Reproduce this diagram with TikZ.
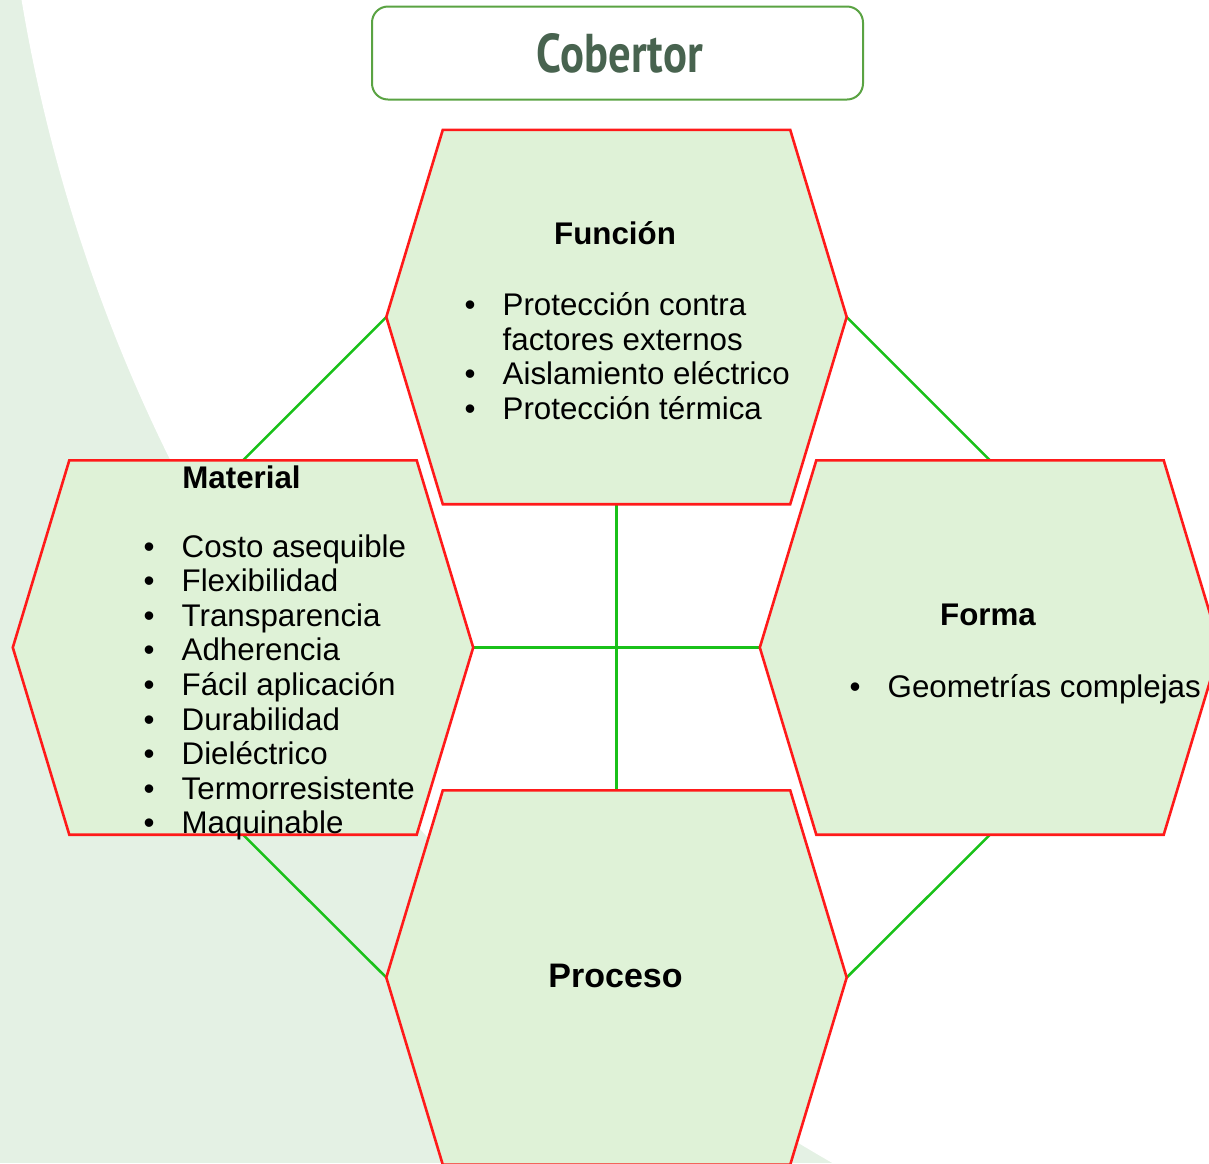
\documentclass[tikz,border=0pt]{standalone}
\usepackage{fontspec}
\setmainfont{Liberation Sans}
\newfontfamily\titlefont{PT Sans}
\usetikzlibrary{calc}
\definecolor{bgarc}{HTML}{E4F1E4}
\definecolor{hexfill}{HTML}{DFF2D7}
\definecolor{hexred}{HTML}{FF1A1A}
\definecolor{linkgreen}{HTML}{19C119}
\definecolor{titletext}{HTML}{48634F}
\definecolor{titleline}{HTML}{5AA343}
\newcommand{\bul}{\makebox[38pt][l]{•}}
\newcommand{\drawhex}[1]{%
  \filldraw[hexline] (#1.west) -- ([xshift=56.5pt]#1.north west) -- ([xshift=-56.5pt]#1.north east)
    -- (#1.east) -- ([xshift=-56.5pt]#1.south east) -- ([xshift=56.5pt]#1.south west) -- cycle;}
\begin{document}
\begin{tikzpicture}[x=1pt,y=-1pt,
  hexa/.style={rectangle,draw=none,minimum width=460pt,minimum height=374pt,inner sep=0pt},
  hexline/.style={fill=hexfill,draw=hexred,line width=2.6pt,line join=miter},
  link/.style={draw=linkgreen,line width=2.5pt},
  headtxt/.style={anchor=base,inner sep=0pt,font=\fontsize{31.3}{34.6}\selectfont\bfseries},
  listtxt/.style={anchor=base west,inner sep=0pt,font=\fontsize{31.3}{34.6}\selectfont},
  titlebox/.style={draw=titleline,line width=2pt,rounded corners=16pt,fill=white,
    minimum width=491pt,minimum height=93pt,inner sep=0pt,text=titletext}]
\useasboundingbox (0,0) rectangle (1209,1163);
\clip (0,0) rectangle (1209,1163);
% background arc
\fill[bgarc] (0,0) rectangle (1209,1163);
\fill[white] (1654,-274) circle [radius=1655pt];
% title
\node[titlebox] (title) at (617.5,53) {\raisebox{-1.5pt}{\hspace{5pt}\resizebox{166pt}{39pt}{\titlefont\bfseries Cobertor}}};
% hexagon nodes
\node[hexa] (fun) at (616.5,317) {};
\node[hexa] (mat) at (243,647.5) {};
\node[hexa] (for) at (990,647.5) {};
\node[hexa] (pro) at (616.5,977.5) {};
% connectors
\draw[link] (fun.west) -- (mat.north);
\draw[link] (fun.east) -- (for.north);
\draw[link] (fun.south) -- (pro.north);
\draw[link] (mat.east) -- (for.west);
\draw[link] (mat.south) -- (pro.west);
\draw[link] (for.south) -- (pro.east);
% hexagons
\drawhex{fun}
\drawhex{mat}
\drawhex{for}
\drawhex{pro}
% texts
\node[headtxt] (funhead) at (615,244) {Función};
\node[listtxt] (funlist) at (464.5,315.5) {\begin{tabular}[t]{@{}l@{}l@{}}
\bul & Protección contra\\
 & factores externos\\
\bul & Aislamiento eléctrico\\
\bul & Protección térmica
\end{tabular}};
\node[headtxt] (mathead) at (241.5,488) {Material};
\node[listtxt] (matlist) at (143.5,557) {\begin{tabular}[t]{@{}l@{}l@{}}
\bul & Costo asequible\\
\bul & Flexibilidad\\
\bul & Transparencia\\
\bul & Adherencia\\
\bul & Fácil aplicación\\
\bul & Durabilidad\\
\bul & Dieléctrico\\
\bul & Termorresistente\\
\bul & Maquinable
\end{tabular}};
\node[headtxt] (forhead) at (988,625) {Forma};
\node[listtxt] (forlist) at (849.5,697) {\begin{tabular}[t]{@{}l@{}l@{}}
\bul & Geometrías complejas
\end{tabular}};
\node[headtxt,font=\fontsize{34}{38}\selectfont\bfseries] (prohead) at (615.5,987) {Proceso};
\end{tikzpicture}
\end{document}
